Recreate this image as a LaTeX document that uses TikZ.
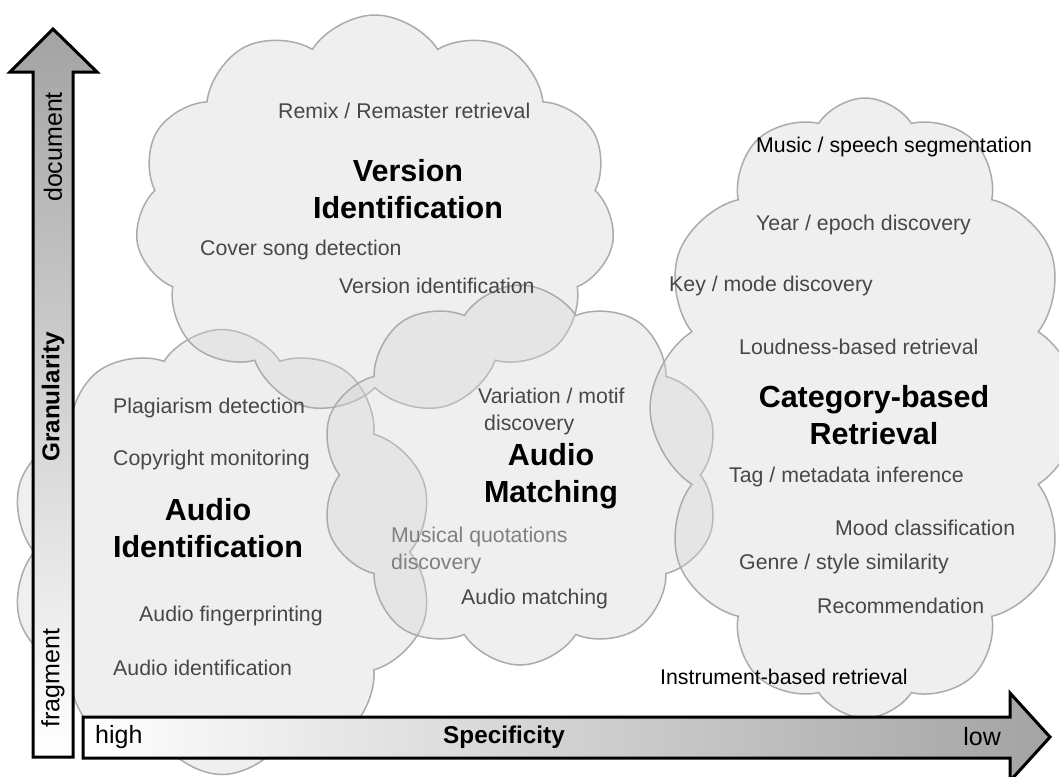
\documentclass[tikz,border=0pt]{standalone}
\usepackage{fontspec}
\setmainfont{Liberation Sans}
\usetikzlibrary{shapes.symbols}

\tikzset{
  blob/.style={cloud, cloud puffs=#1, cloud puff arc=115, cloud ignores aspect,
    draw=black!33, line width=1.5pt, fill=black!17, fill opacity=0.37, inner sep=0pt},
  itm/.style={anchor=west, text=black!72, font=\fontsize{21.3}{27}\selectfont, inner sep=0pt, align=left},
  ttl/.style={text=black, font=\bfseries\fontsize{30.5}{37}\selectfont, align=center, inner sep=0pt},
  axbox/.style={draw=black, line width=3pt, line join=miter},
  axlbl/.style={font=\fontsize{25}{30}\selectfont, inner sep=0pt},
  axttl/.style={font=\bfseries\fontsize{24.3}{29}\selectfont, inner sep=0pt},
}

\begin{document}
\begin{tikzpicture}[x=1pt,y=-1pt]
  \useasboundingbox[fill=white] (0,0) rectangle (1059,776);

  % clouds
  \node[blob=10, minimum width=425pt, minimum height=445pt] (audIdCloud) at (222,552) {};
  \node[blob=11, minimum width=480pt, minimum height=400pt] (verCloud) at (375,215) {};
  \node[blob=10, minimum width=400pt, minimum height=380pt] (audMatCloud) at (520,475) {};
  \node[blob=12, minimum width=430pt, minimum height=620pt] (catCloud) at (865,408) {};

  % version identification
  \node[itm] (remix) at (278,111) {Remix / Remaster retrieval};
  \node[ttl] (verTitle) at (408,189) {Version\\Identification};
  \node[itm] (cover) at (200,250) {Cover song detection};
  \node[itm] (version) at (339,286) {Version identification};

  % category-based retrieval
  \node[itm, text=black] (speech) at (756,147) {Music / speech segmentation};
  \node[itm] (year) at (756,225) {Year / epoch discovery};
  \node[itm] (keymode) at (669,286) {Key / mode discovery};
  \node[itm] (loud) at (739,347) {Loudness-based retrieval};
  \node[ttl] (catTitle) at (874,415) {Category-based\\Retrieval};
  \node[itm] (tag) at (729,477) {Tag / metadata inference};
  \node[itm] (mood) at (835,528) {Mood classification};
  \node[itm] (genre) at (739,564) {Genre / style similarity};
  \node[itm] (recom) at (817,606) {Recommendation};
  \node[itm, text=black] (instr) at (660,677) {Instrument-based retrieval};

  % audio identification
  \node[itm] (plag) at (113,408) {Plagiarism detection};
  \node[itm] (copy) at (113,460) {Copyright monitoring};
  \node[ttl] (audIdTitle) at (208,528) {Audio\\Identification};
  \node[itm] (finger) at (139,616) {Audio fingerprinting};
  \node[itm] (audId) at (113,668) {Audio identification};

  % audio matching
  \node[itm] (variation) at (478,411) {Variation / motif\\\hspace*{6pt}discovery};
  \node[ttl] (audMatTitle) at (551,476) {Audio\\Matching};
  \node[itm, text=black!50] (quot) at (391,550) {Musical quotations\\discovery};
  \node[itm] (audMat) at (461,599) {Audio matching};

  % axes
  \draw[axbox, top color=black!36, bottom color=white]
    (33,757) -- (33,72) -- (10,72) -- (53,29) -- (97,72) -- (73,72) -- (73,757) -- cycle;
  \draw[axbox, left color=white, right color=black!36]
    (83,717) -- (1010,717) -- (1010,693) -- (1050,737) -- (1010,781) -- (1010,758) -- (83,758) -- cycle;

  \node[axlbl, rotate=90] (docLbl) at (53,147) {document};
  \node[axttl, rotate=90] (granLbl) at (53,397) {Granularity};
  \node[axlbl, rotate=90] (fragLbl) at (53,678) {fragment};
  \node[axlbl, anchor=west] (highLbl) at (95,737) {high};
  \node[axttl] (specLbl) at (504,737) {Specificity};
  \node[axlbl, anchor=east] (lowLbl) at (1001,737) {low};
\end{tikzpicture}
\end{document}
